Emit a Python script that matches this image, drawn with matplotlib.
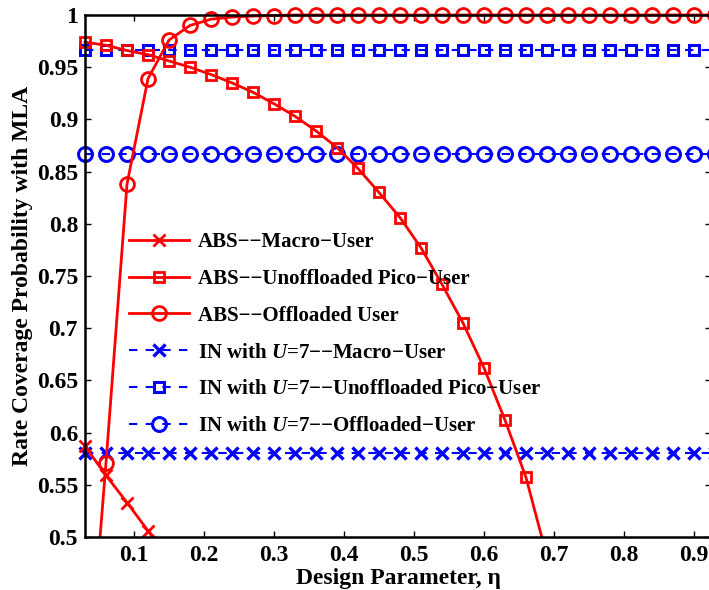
import matplotlib
matplotlib.use('Agg')
import matplotlib.pyplot as plt
import matplotlib.patches as mpatches
import numpy as np

# design parameter eta (markers every 0.03)
eta = [0.03, 0.06, 0.09, 0.12, 0.15, 0.18, 0.21, 0.24, 0.27, 0.30, 0.33,
       0.36, 0.39, 0.42, 0.45, 0.48, 0.51, 0.54, 0.57, 0.60, 0.63, 0.66,
       0.69, 0.72, 0.75, 0.78, 0.81, 0.84, 0.87, 0.90, 0.93]

abs_macro_eta = [0.03, 0.06, 0.09, 0.12, 0.15]
abs_macro = [0.587, 0.559, 0.533, 0.506, 0.478]

abs_unoff_eta = [0.03, 0.06, 0.09, 0.12, 0.15, 0.18, 0.21, 0.24, 0.27, 0.30,
                 0.33, 0.36, 0.39, 0.42, 0.45, 0.48, 0.51, 0.54, 0.57, 0.60,
                 0.63, 0.66, 0.69, 0.72]
abs_unoff = [0.974, 0.971, 0.966, 0.962, 0.956, 0.950, 0.943, 0.935, 0.926,
             0.915, 0.903, 0.889, 0.873, 0.853, 0.830, 0.806, 0.777, 0.742,
             0.705, 0.662, 0.612, 0.557, 0.481, 0.40]

abs_off = [0.32, 0.571, 0.838, 0.939, 0.976, 0.990, 0.996, 0.998, 0.999,
           0.9995, 1.0, 1.0, 1.0, 1.0, 1.0, 1.0, 1.0, 1.0, 1.0, 1.0, 1.0,
           1.0, 1.0, 1.0, 1.0, 1.0, 1.0, 1.0, 1.0, 1.0, 1.0]

in_macro = 0.580
in_unoff = 0.9665
in_off = 0.8666

xticks = [0.1, 0.2, 0.3, 0.4, 0.5, 0.6, 0.7, 0.8, 0.9]
xtick_labels = ['0.1', '0.2', '0.3', '0.4', '0.5', '0.6', '0.7', '0.8', '0.9']
yticks = [0.5, 0.55, 0.6, 0.65, 0.7, 0.75, 0.8, 0.85, 0.9, 0.95, 1.0]
ytick_labels = ['0.5', '0.55', '0.6', '0.65', '0.7', '0.75', '0.8', '0.85',
                '0.9', '0.95', '1']

plt.rcParams['font.family'] = 'Liberation Serif'
plt.rcParams['font.weight'] = 'bold'
plt.rcParams['mathtext.fontset'] = 'custom'
plt.rcParams['mathtext.it'] = 'Liberation Serif:italic:bold'
plt.rcParams['mathtext.rm'] = 'Liberation Serif:bold'

fig = plt.figure(figsize=(7.09, 5.9), dpi=100)
ax = fig.add_axes([85 / 709, 53 / 590, 626.5 / 709, 522 / 590])

red = '#ff0000'
blue = '#0000ff'
dash = (0, (4, 4))
n = len(eta)

l4, = ax.plot(eta, [in_macro] * n, color=blue, ls=dash, lw=1.5, marker='x',
              ms=8, mew=2.4, label='IN with $U$=7\u2212\u2212Macro\u2212User')
l5, = ax.plot(eta, [in_unoff] * n, color=blue, ls=dash, lw=1.5, marker='s',
              ms=7, mew=2.2, mfc='none',
              label='IN with $U$=7\u2212\u2212Unoffloaded Pico\u2212User')
l6, = ax.plot(eta, [in_off] * n, color=blue, ls=dash, lw=1.5, marker='o',
              ms=10, mew=2.2, mfc='none',
              label='IN with $U$=7\u2212\u2212Offloaded\u2212User')

l1, = ax.plot(abs_macro_eta, abs_macro, color=red, lw=2, marker='x', ms=9,
              mew=2, label='ABS\u2212\u2212Macro\u2212User')
l2, = ax.plot(abs_unoff_eta, abs_unoff, color=red, lw=2, marker='s', ms=7,
              mew=2, mfc='none', label='ABS\u2212\u2212Unoffloaded Pico\u2212User')
l3, = ax.plot(eta, abs_off, color=red, lw=2, marker='o', ms=10, mew=2,
              mfc='none', label='ABS\u2212\u2212Offloaded User')

# allow markers to overhang the side spines but clip below the x axis
clip = mpatches.Rectangle((-0.05, 0), 1.1, 1.1, transform=ax.transAxes,
                          fill=False, visible=False)
ax.add_patch(clip)
for ln in [l1, l2, l3, l4, l5, l6]:
    ln.set_clip_path(clip)

ax.set_xlim(0.03, 0.925)
ax.set_ylim(0.5, 1.0)
ax.set_xticks(xticks)
ax.set_xticklabels(xtick_labels)
ax.set_yticks(yticks)
ax.set_yticklabels(ytick_labels)
ax.tick_params(direction='in', top=True, right=True, length=4, width=1,
               labelsize=17, pad=6)
ax.tick_params(axis='y', pad=5)
for s in ax.spines.values():
    s.set_linewidth(1.8)

ax.set_xlabel('Design Parameter, \u03b7', fontsize=17, fontweight='bold',
              labelpad=1)
ax.set_ylabel('Rate Coverage Probability with MLA', fontsize=17,
              fontweight='bold', labelpad=3)

ax.legend(handles=[l1, l2, l3, l4, l5, l6], loc='upper left',
          bbox_to_anchor=(129 / 709, 1 - 232 / 590),
          bbox_transform=fig.transFigure, frameon=False, fontsize=15,
          handlelength=2.9, handletextpad=0.4, labelspacing=0.81,
          borderaxespad=0, borderpad=0)

fig.savefig('out.png', dpi=100)
